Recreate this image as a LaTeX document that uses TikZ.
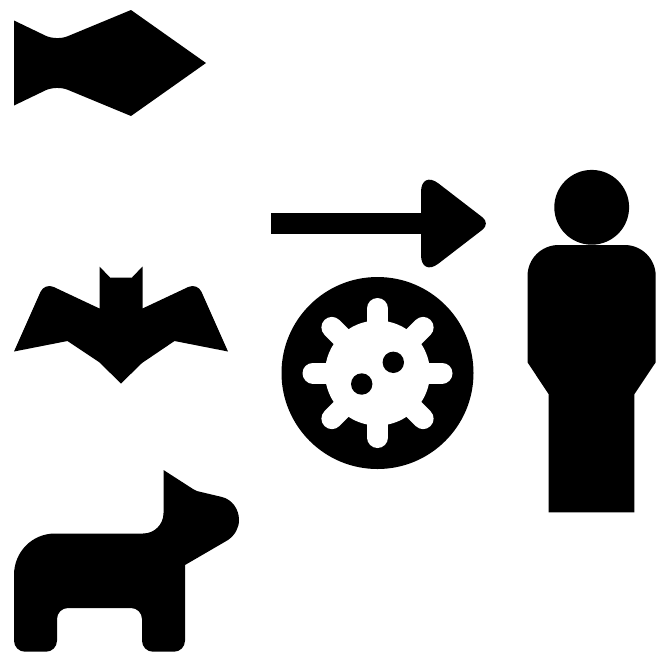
\documentclass[tikz,border=0pt]{standalone}
\tikzset{icon/.style={fill=black,draw=none},
  hole/.style={fill=white,draw=none},
  spike/.style={draw=white,line width=21pt,line cap=round}}
\begin{document}
\begin{tikzpicture}[x=1pt,y=-1pt]
\useasboundingbox (0,0) rectangle (660,657);
% fish
\fill[icon] (14,20.5) [rounded corners=12pt] -- (56.4,40.9) [sharp corners] -- (131,10) -- (206,63) -- (131,116) [rounded corners=12pt] -- (56.4,85.1) [sharp corners] -- (14,105.5) -- cycle;
% bat
\fill[icon] (99.5,266.5) -- (110,277.5) -- (132,277.5) -- (142.5,266.5) -- (142.5,308.5) [rounded corners=10pt] -- (197.4,282.7) [sharp corners] -- (228,351.5) -- (174.5,341) -- (142,363) -- (121,383.5) -- (99,362) -- (67.5,341) -- (14,351.5) [rounded corners=10pt] -- (44.6,282.7) [sharp corners] -- (99.5,308.5) -- cycle;
% dog
\fill[icon] (163.5,470) -- (193,489) .. controls (196,491) and (198,491.5) .. (201,492) -- (222,497) .. controls (232,499.5) and (239,509) .. (239,520) .. controls (239,528) and (235,535) .. (228,540) -- (185,565) [rounded corners=11pt] -- (185,651.7) -- (142,651.7) -- (142,608) -- (57,608) -- (57,651.7) -- (14,651.7) [sharp corners] -- (14,575) .. controls (14,552) and (32,533.5) .. (55,533.5) -- (143,533.5) .. controls (154.5,533.5) and (163.5,524.5) .. (163.5,513) -- cycle;
% arrow
\fill[icon] (270.5,213) rectangle (425,234);
\fill[icon] (421,223.5) [rounded corners=22pt] -- (421,170) [rounded corners=10pt] -- (490.5,223.5) [rounded corners=22pt] -- (421,277) -- cycle;
% virus
\fill[icon] (377.5,373) circle (96);
\fill[hole] (377.5,373) circle (52.5);
\foreach \a in {0,45,...,315}
  \draw[spike] (377.5,373) -- ++(\a:64.5);
\fill[icon] (393.3,362.3) circle (10.7);
\fill[icon] (361.7,384) circle (10.7);
% person
\fill[icon] (591.7,207.3) circle (37.4);
\fill[icon] (548.7,512.3) -- (548.7,394.3) -- (527.5,362.3) [rounded corners=31pt] -- (527.5,245) -- (655.7,245) [sharp corners] -- (655.7,362.3) -- (634.3,394.3) -- (634.3,512.3) -- cycle;
\end{tikzpicture}
\end{document}
